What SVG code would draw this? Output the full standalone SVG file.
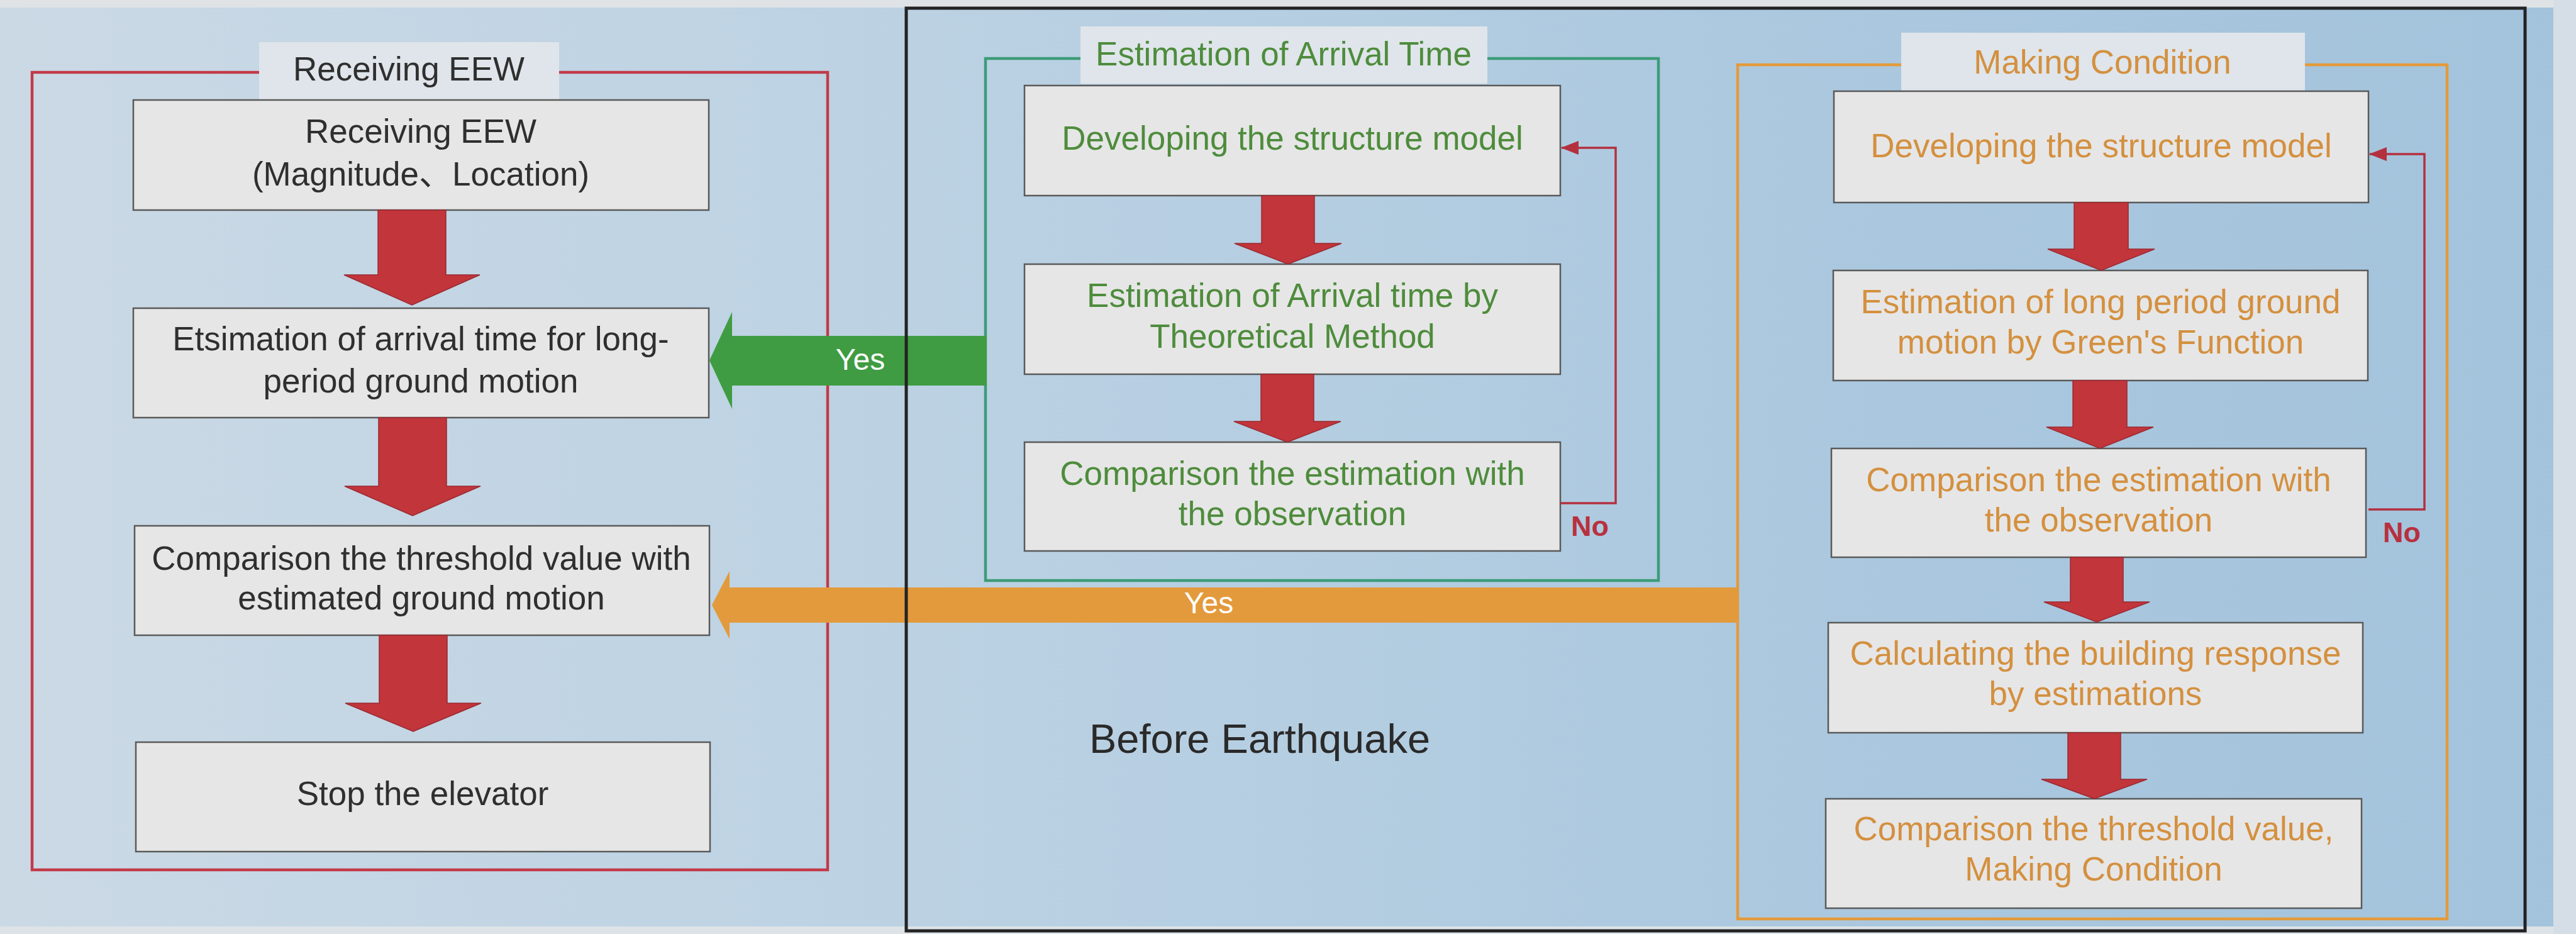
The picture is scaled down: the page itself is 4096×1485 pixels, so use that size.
<svg xmlns="http://www.w3.org/2000/svg" width="4096" height="1485" viewBox="0 0 4096 1485">
<defs>
<linearGradient id="bg" x1="0" y1="0" x2="1" y2="0">
<stop offset="0" stop-color="#cbd9e5"/>
<stop offset="0.35" stop-color="#bcd2e3"/>
<stop offset="0.7" stop-color="#abc8df"/>
<stop offset="1" stop-color="#a3c3dc"/>
</linearGradient>
<marker id="loopHead" viewBox="0 0 10 10" refX="9" refY="5" markerWidth="9" markerHeight="7" markerUnits="userSpaceOnUse" orient="auto">
<path d="M0,0 L10,5 L0,10 Z" fill="#b3303f"/>
</marker>
<marker id="lh" viewBox="0 0 28 22" refX="27" refY="11" markerWidth="28" markerHeight="22" markerUnits="userSpaceOnUse" orient="auto">
<path d="M0,0 L28,11 L0,22 Z" fill="#b3303f"/>
</marker>
</defs>
<style>
text{font-family:"Liberation Sans",Arial,"Noto Sans CJK JP",sans-serif;text-anchor:middle}
.box{fill:#e6e6e6;stroke:#5a5a5a;stroke-width:2.5}
.ttl{fill:#dfe5ea}
.t{font-size:53px;fill:#2f2f2f}
.tg{font-size:53px;fill:#4e8c3c}
.to{font-size:53px;fill:#d4903f}
.down{fill:#c1353b;stroke:#9b2a31;stroke-width:1.5}
.frame{fill:none;stroke-width:4.5}
.loop{fill:none;stroke:#b3303f;stroke-width:3.5}
.yes{font-size:48px;fill:#ffffff}
.no{font-size:45px;font-weight:bold;fill:#b8303e}
</style>
<rect x="0" y="0" width="4096" height="1485" fill="url(#bg)"/>
<rect x="0" y="0" width="4096" height="12" fill="#dfe3e6"/>
<rect x="0" y="1473" width="4096" height="12" fill="#dde3e7"/>
<rect x="4060" y="0" width="36" height="1485" fill="#d5dee6"/>

<!-- frames -->
<g id="frame-receiving">
<rect class="frame" x="51" y="115" width="1265" height="1268" stroke="#c23a48"/>
<rect class="ttl" x="412" y="67" width="477" height="91"/>
<text class="t" x="650" y="128">Receiving EEW</text>
</g>
<g id="frame-arrival">
<rect class="frame" x="1567" y="93" width="1070" height="830" stroke="#3c9c78"/>
<rect class="ttl" x="1718" y="42" width="647" height="91"/>
<text class="tg" x="2041" y="104">Estimation of Arrival Time</text>
</g>
<g id="frame-condition">
<rect class="frame" x="2763" y="103" width="1128" height="1358" stroke="#e49a3a"/>
<rect class="ttl" x="3023" y="52" width="642" height="95"/>
<text class="to" x="3343" y="117">Making Condition</text>
</g>

<!-- left column -->
<g id="l1"><rect class="box" x="212" y="159" width="915" height="175"/>
<text class="t" x="669" y="227">Receiving EEW</text>
<text class="t" x="669" y="295">(Magnitude、Location)</text></g>
<g id="l2"><rect class="box" x="212" y="490" width="915" height="174"/>
<text class="t" x="669" y="557">Etsimation of arrival time for long-</text>
<text class="t" x="669" y="624">period ground motion</text></g>
<g id="l3"><rect class="box" x="214" y="836" width="914" height="174"/>
<text class="t" x="670" y="906">Comparison the threshold value with</text>
<text class="t" x="670" y="969">estimated ground motion</text></g>
<g id="l4"><rect class="box" x="216" y="1180" width="913" height="174"/>
<text class="t" x="672" y="1280">Stop the elevator</text></g>

<!-- green column -->
<g id="g1"><rect class="box" x="1629" y="136" width="852" height="175"/>
<text class="tg" x="2055" y="238">Developing the structure model</text></g>
<g id="g2"><rect class="box" x="1629" y="420" width="852" height="175"/>
<text class="tg" x="2055" y="488">Estimation of Arrival time by</text>
<text class="tg" x="2055" y="553">Theoretical Method</text></g>
<g id="g3"><rect class="box" x="1629" y="703" width="852" height="173"/>
<text class="tg" x="2055" y="771">Comparison the estimation with</text>
<text class="tg" x="2055" y="835">the observation</text></g>

<!-- orange column -->
<g id="o1"><rect class="box" x="2916" y="145" width="850" height="177"/>
<text class="to" x="3341" y="250">Developing the structure model</text></g>
<g id="o2"><rect class="box" x="2915" y="430" width="850" height="175"/>
<text class="to" x="3340" y="498">Estimation of long period ground</text>
<text class="to" x="3340" y="562">motion by Green's Function</text></g>
<g id="o3"><rect class="box" x="2912" y="713" width="850" height="173"/>
<text class="to" x="3337" y="781">Comparison the estimation with</text>
<text class="to" x="3337" y="845">the observation</text></g>
<g id="o4"><rect class="box" x="2907" y="990" width="850" height="175"/>
<text class="to" x="3332" y="1057">Calculating the building response</text>
<text class="to" x="3332" y="1121">by estimations</text></g>
<g id="o5"><rect class="box" x="2903" y="1270" width="852" height="174"/>
<text class="to" x="3329" y="1336">Comparison the threshold value,</text>
<text class="to" x="3329" y="1400">Making Condition</text></g>

<text id="before-earthquake" x="1732" y="1197" style="font-size:65px;fill:#2a2a2a;text-anchor:start">Before Earthquake</text>

<g id="connectors">
<path class="down" d="M601,334 H709 V437 H763 L655,485 L547,437 H601 Z"/>
<path class="down" d="M602,664 H710 V773 H764 L656,820 L548,773 H602 Z"/>
<path class="down" d="M603,1010 H711 V1118 H765 L657,1163 L549,1118 H603 Z"/>

<path class="down" d="M2006,311 H2090 V387 H2133 L2048,420 L1963,387 H2006 Z"/>
<path class="down" d="M2005,595 H2089 V670 H2132 L2047,703 L1962,670 H2005 Z"/>

<path class="down" d="M3298,322 H3384 V396 H3426 L3341,430 L3256,396 H3298 Z"/>
<path class="down" d="M3296,605 H3382 V679 H3424 L3339,713 L3254,679 H3296 Z"/>
<path class="down" d="M3292,886 H3376 V957 H3418 L3334,989 L3250,957 H3292 Z"/>
<path class="down" d="M3288,1165 H3372 V1239 H3414 L3330,1270 L3246,1239 H3288 Z"/>

<polyline class="loop" points="2481,800 2569,800 2569,235 2483,235" marker-end="url(#lh)"/>
<text class="no" x="2528" y="852">No</text>
<polyline class="loop" points="3766,810 3855,810 3855,245 3768,245" marker-end="url(#lh)"/>
<text class="no" x="3819" y="862">No</text>

<path d="M1128,573 L1164,496 V534 H1569 V613 H1164 V650 Z" fill="#3f9c42"/>
<text class="yes" x="1368" y="588">Yes</text>
<path d="M1132,962 L1160,908 V934 H2763 V990 H1160 V1016 Z" fill="#e39a3c"/>
<text class="yes" x="1922" y="975">Yes</text>
</g>

<rect id="region-before" x="1441" y="13" width="2574" height="1467" fill="none" stroke="#232323" stroke-width="5"/>
</svg>
